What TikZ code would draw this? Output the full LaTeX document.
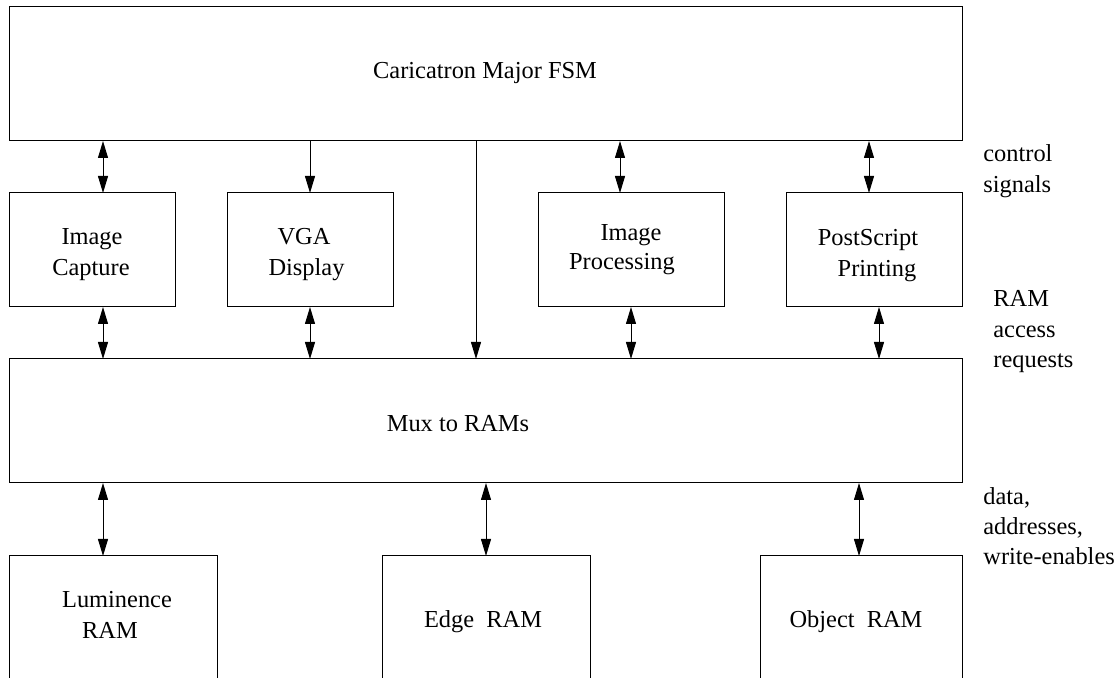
\documentclass[tikz,border=0pt]{standalone}
\usepackage{fontspec}
\setmainfont{Liberation Serif}
\usetikzlibrary{arrows.meta}
\begin{document}
\begin{tikzpicture}[x=0.5pt,y=-0.5pt,
  box/.style={draw,line width=0.5pt,rectangle,inner sep=0pt,outer sep=0pt,anchor=north west},
  lbl/.style={inner sep=0pt,anchor=base,font=\fontsize{12.2}{14}\selectfont},
  side/.style={lbl,anchor=base west},
  conn/.style={line width=0.5pt},
  >={Triangle[length=8.5pt,width=5pt]}]
\useasboundingbox (0,0) rectangle (1120,678);
\clip (0,0) rectangle (1120,678);
% boxes
\node[box,minimum width=476.25pt,minimum height=67pt] (fsm) at (9.5,7) {};
\node[box,minimum width=82.75pt,minimum height=57pt] (cap) at (9.5,193) {};
\node[box,minimum width=83pt,minimum height=57pt] (vga) at (227,193) {};
\node[box,minimum width=93pt,minimum height=57pt] (proc) at (538,193) {};
\node[box,minimum width=88pt,minimum height=57pt] (ps) at (786,193) {};
\node[box,minimum width=476.25pt,minimum height=62pt] (mux) at (9.5,359) {};
\node[box,minimum width=103.75pt,minimum height=64pt] (lum) at (9.5,556) {};
\node[box,minimum width=104pt,minimum height=64pt] (edge) at (382,556) {};
\node[box,minimum width=101pt,minimum height=64pt] (obj) at (760,556) {};
% texts
\node[lbl] (tfsm) at (485,79) {Caricatron Major FSM};
\node[lbl] (tcap1) at (92,245) {Image};
\node[lbl] (tcap2) at (91,276) {Capture};
\node[lbl] (tvga1) at (304,245) {VGA};
\node[lbl] (tvga2) at (306.5,276) {Display};
\node[lbl] (tproc1) at (631,241) {Image};
\node[lbl] (tproc2) at (622,270) {Processing};
\node[lbl] (tps1) at (868,245.5) {PostScript};
\node[lbl] (tps2) at (877,276.5) {Printing};
\node[lbl] (tmux) at (458,432) {Mux to RAMs};
\node[lbl] (tlum1) at (117,608) {Luminence};
\node[lbl] (tlum2) at (110,639) {RAM};
\node[lbl] (tedge) at (483,628) {Edge\ \ RAM};
\node[lbl] (tobj) at (856,628) {Object\ \ RAM};
\node[side] (s1a) at (983,162) {control};
\node[side] (s1b) at (983,192.5) {signals};
\node[side] (s2a) at (993,307) {RAM};
\node[side] (s2b) at (993,337.5) {access};
\node[side] (s2c) at (993,368) {requests};
\node[side] (s3a) at (983,505) {data,};
\node[side] (s3b) at (983,535) {addresses,};
\node[side] (s3c) at (983,565) {write-enables};
% x positions of connectors
\coordinate (xa) at (103,0);
\coordinate (xb) at (310,0);
\coordinate (xc) at (476,0);
\coordinate (xd) at (620,0);
\coordinate (xe) at (869,0);
\coordinate (xf) at (631,0);
\coordinate (xg) at (879,0);
\coordinate (xh) at (486,0);
\coordinate (xi) at (859,0);
% connectors
\draw[conn,<->] (fsm.south -| xa) -- (cap.north -| xa);
\draw[conn,->] (fsm.south -| xb) -- (vga.north -| xb);
\draw[conn,->] (fsm.south -| xc) -- (mux.north -| xc);
\draw[conn,<->] (fsm.south -| xd) -- (proc.north -| xd);
\draw[conn,<->] (fsm.south -| xe) -- (ps.north -| xe);
\draw[conn,<->] (cap.south -| xa) -- (mux.north -| xa);
\draw[conn,<->] (vga.south -| xb) -- (mux.north -| xb);
\draw[conn,<->] (proc.south -| xf) -- (mux.north -| xf);
\draw[conn,<->] (ps.south -| xg) -- (mux.north -| xg);
\draw[conn,<->] (mux.south -| xa) -- (lum.north -| xa);
\draw[conn,<->] (mux.south -| xh) -- (edge.north -| xh);
\draw[conn,<->] (mux.south -| xi) -- (obj.north -| xi);
\end{tikzpicture}
\end{document}
